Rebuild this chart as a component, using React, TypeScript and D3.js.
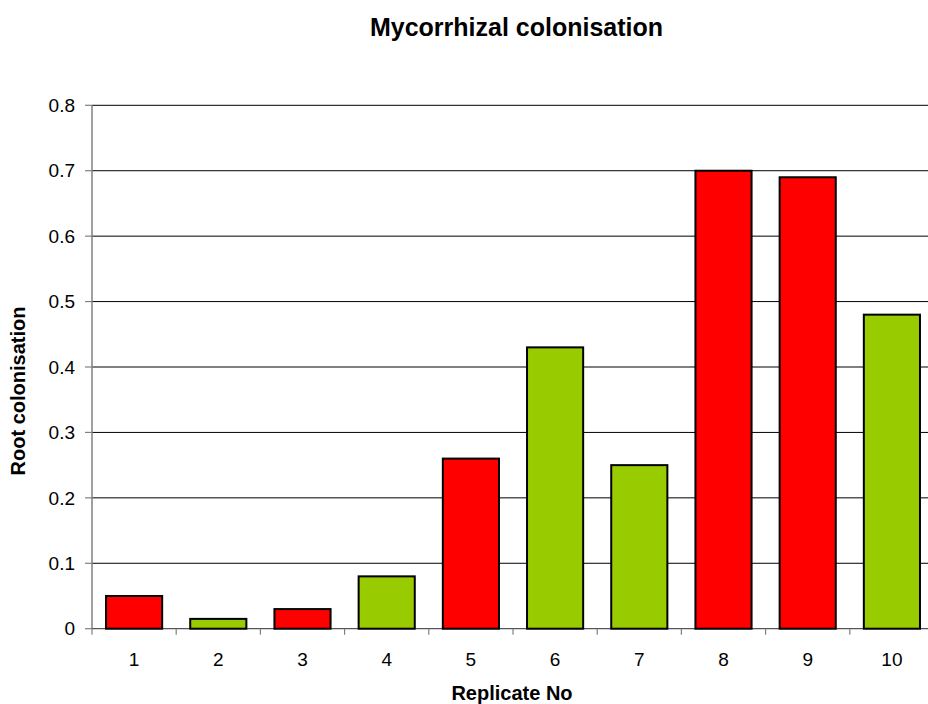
import React from "react";
import { scaleBand, scaleLinear, range } from "d3";

const replicates = ["1", "2", "3", "4", "5", "6", "7", "8", "9", "10"];
const colonisation = [0.05, 0.015, 0.03, 0.08, 0.26, 0.43, 0.25, 0.7, 0.69, 0.48];
const barColors = ["red", "green", "red", "green", "red", "green", "green", "red", "red", "green"];
const yTicks = [0, 0.1, 0.2, 0.3, 0.4, 0.5, 0.6, 0.7, 0.8];

const palette = { red: "#ff0000", green: "#99cc00" };

export const App = () => {
  const width = 928;
  const height = 704;
  const margin = { top: 105.3, left: 92 };
  const innerWidth = 842;
  const innerHeight = 628.7 - margin.top;
  const font = "'Liberation Sans', Arial, sans-serif";

  const xScale = scaleBand()
    .domain(replicates)
    .range([0, innerWidth])
    .paddingInner(1 / 3)
    .paddingOuter(1 / 6);

  const yScale = scaleLinear().domain([0, 0.8]).range([innerHeight, 0]);

  const step = xScale.step();
  const bandLeft = (i) => xScale(replicates[i]) - (step * (1 / 3)) / 2;

  return (
    <svg
      width={width}
      height={height}
      style={{ position: "absolute", left: 0, top: 0, background: "#fff" }}
      fontFamily={font}
    >
      <text x={516.5} y={36} textAnchor="middle" fontSize={25} fontWeight="bold">
        Mycorrhizal colonisation
      </text>
      <g transform={`translate(${margin.left},${margin.top})`}>
        {/* gridlines */}
        {yTicks.slice(1).map((t) => (
          <line
            key={t}
            x1={0}
            x2={innerWidth}
            y1={yScale(t)}
            y2={yScale(t)}
            stroke="#000"
            strokeWidth={1}
          />
        ))}
        {/* y axis */}
        <line x1={0} x2={0} y1={0} y2={innerHeight} stroke="#808080" strokeWidth={1.5} />
        {yTicks.map((t) => (
          <g key={t} transform={`translate(0,${yScale(t)})`}>
            <line x1={-7} x2={0} stroke="#808080" strokeWidth={1.2} />
            <text x={-17} dy="0.35em" textAnchor="end" fontSize={19}>
              {t === 0 ? "0" : t.toFixed(1)}
            </text>
          </g>
        ))}
        {/* x axis */}
        <line x1={0} x2={innerWidth} y1={innerHeight} y2={innerHeight} stroke="#555" strokeWidth={1.2} />
        {range(replicates.length + 1).map((i) => {
          const x = i < replicates.length ? bandLeft(i) : innerWidth;
          return (
            <line
              key={i}
              x1={x}
              x2={x}
              y1={innerHeight}
              y2={innerHeight + 6}
              stroke="#808080"
              strokeWidth={1.2}
            />
          );
        })}
        {replicates.map((r) => (
          <text
            key={r}
            x={xScale(r) + xScale.bandwidth() / 2}
            y={innerHeight + 37}
            textAnchor="middle"
            fontSize={19}
          >
            {r}
          </text>
        ))}
        {/* bars */}
        {colonisation.map((v, i) => (
          <rect
            key={i}
            x={xScale(replicates[i])}
            y={yScale(v)}
            width={xScale.bandwidth()}
            height={innerHeight - yScale(v)}
            fill={palette[barColors[i]]}
            stroke="#000"
            strokeWidth={2}
          />
        ))}
      </g>
      <text x={512} y={700} textAnchor="middle" fontSize={20} fontWeight="bold">
        Replicate No
      </text>
      <text
        transform="translate(25,391) rotate(-90)"
        textAnchor="middle"
        fontSize={20}
        fontWeight="bold"
      >
        Root colonisation
      </text>
    </svg>
  );
};

export default App;
